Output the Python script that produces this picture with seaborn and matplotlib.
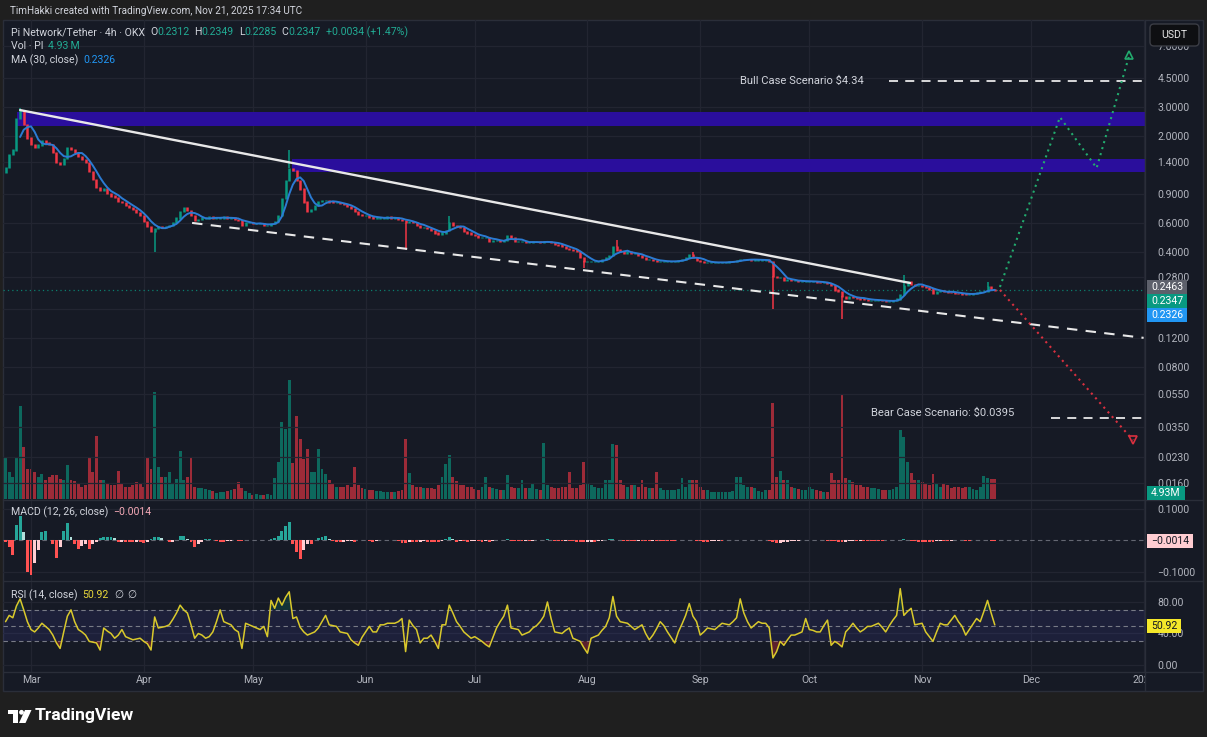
import numpy as np
import pandas as pd
import matplotlib
matplotlib.use("Agg")
import matplotlib.pyplot as plt
import matplotlib.transforms as mtransforms
from matplotlib.patches import Rectangle, FancyBboxPatch, Polygon, Circle
from matplotlib.lines import Line2D
import seaborn as sns

sns.set_theme(style="dark")
plt.rcParams["font.family"] = ["Roboto", "DejaVu Sans"]
plt.rcParams["axes.unicode_minus"] = True

W, H = 1207, 737
BG = "#161a25"
OUTER = "#1f1f1f"
GRID = "#222531"
TXT = "#b2b5be"
UP = "#089981"
DOWN = "#f23645"

# one value per day, starting 2025-02-22 (rows = weeks)
start_day = "2025-02-22"
first_open = 1.20
close = [
    1.30, 1.55, 1.65, 2.55, 2.85, 2.35, 1.95,
    1.78, 1.70, 1.77, 1.88, 1.82, 1.78, 1.60,
    1.38, 1.36, 1.46, 1.70, 1.66, 1.60, 1.50,
    1.45, 1.38, 1.22, 1.10, 0.98, 0.94, 0.97,
    0.90, 0.87, 0.85, 0.81, 0.79, 0.76, 0.74,
    0.72, 0.69, 0.66, 0.61, 0.57, 0.53, 0.55,
    0.57, 0.56, 0.57, 0.58, 0.60, 0.64, 0.70,
    0.74, 0.71, 0.66, 0.62, 0.63, 0.64, 0.64,
    0.65, 0.64, 0.64, 0.64, 0.65, 0.64, 0.64,
    0.63, 0.62, 0.58, 0.60, 0.60, 0.59, 0.59,
    0.59, 0.58, 0.58, 0.59, 0.61, 0.66, 0.84,
    1.08, 1.28, 1.24, 1.08, 0.96, 0.80, 0.70,
    0.72, 0.76, 0.81, 0.82, 0.82, 0.80, 0.79,
    0.79, 0.78, 0.77, 0.75, 0.73, 0.70, 0.67,
    0.66, 0.66, 0.65, 0.64, 0.64, 0.64, 0.64,
    0.65, 0.64, 0.64, 0.63, 0.62, 0.60, 0.61,
    0.60, 0.58, 0.56, 0.56, 0.55, 0.54, 0.52,
    0.51, 0.52, 0.54, 0.60, 0.58, 0.57, 0.56,
    0.53, 0.52, 0.51, 0.50, 0.49, 0.49, 0.49,
    0.46, 0.47, 0.47, 0.46, 0.47, 0.50, 0.49,
    0.46, 0.46, 0.46, 0.455, 0.455, 0.46, 0.46,
    0.455, 0.46, 0.46, 0.455, 0.445, 0.44, 0.43,
    0.42, 0.415, 0.41, 0.40, 0.37, 0.35, 0.35,
    0.35, 0.35, 0.35, 0.36, 0.37, 0.38, 0.43,
    0.41, 0.40, 0.39, 0.40, 0.39, 0.39, 0.38,
    0.37, 0.36, 0.36, 0.355, 0.35, 0.35, 0.35,
    0.35, 0.35, 0.35, 0.355, 0.36, 0.37, 0.385,
    0.37, 0.355, 0.35, 0.345, 0.345, 0.345, 0.345,
    0.345, 0.345, 0.345, 0.35, 0.35, 0.355, 0.36,
    0.36, 0.36, 0.357, 0.357, 0.357, 0.357, 0.357,
    0.35, 0.285, 0.28, 0.28, 0.27, 0.27, 0.267,
    0.267, 0.265, 0.265, 0.265, 0.265, 0.265, 0.262,
    0.26, 0.26, 0.256, 0.25, 0.235, 0.23, 0.215,
    0.21, 0.215, 0.212, 0.21, 0.207, 0.206, 0.204,
    0.204, 0.204, 0.204, 0.202, 0.20, 0.20, 0.203,
    0.207, 0.22, 0.25, 0.265, 0.255, 0.25, 0.25,
    0.248, 0.242, 0.238, 0.225, 0.23, 0.232, 0.23,
    0.228, 0.226, 0.225, 0.224, 0.222, 0.22, 0.221,
    0.224, 0.228, 0.23, 0.231, 0.245, 0.236, 0.2347,
]
wick_high_days = ["2025-02-26", "2025-05-11", "2025-06-24", "2025-08-09", "2025-08-30", "2025-10-27", "2025-11-19"]
wick_high_price = [2.98, 1.65, 0.66, 0.47, 0.40, 0.29, 0.262]
wick_low_days = ["2025-04-04", "2025-06-12", "2025-07-31", "2025-09-21", "2025-10-10"]
wick_low_price = [0.40, 0.41, 0.32, 0.18, 0.157]

volume_m = [
    10.2, 6.8, 5.5, 10.5, 23.2, 13.0, 7.5,
    7.5, 6.8, 5.5, 6.2, 4.8, 5.5, 6.0,
    6.0, 5.0, 4.8, 8.5, 4.8, 4.5, 4.0,
    3.0, 3.5, 10.5, 6.8, 15.8, 4.8, 4.8,
    4.0, 3.5, 3.5, 7.0, 3.8, 3.0, 3.0,
    3.5, 4.2, 3.8, 3.0, 10.5, 7.5, 26.8,
    8.0, 5.5, 5.5, 6.8, 4.0, 5.0, 12.0,
    4.8, 5.5, 10.2, 3.0, 2.8, 2.8, 2.5,
    2.2, 2.0, 1.5, 1.8, 1.8, 2.0, 2.2,
    2.5, 4.2, 2.8, 2.0, 1.5, 1.0, 1.2,
    1.0, 1.0, 1.2, 1.0, 5.2, 9.2, 19.2,
    17.5, 29.8, 9.0, 20.8, 15.0, 10.0, 12.5,
    6.8, 6.8, 12.5, 7.5, 6.2, 4.8, 4.0,
    3.0, 3.0, 3.0, 3.5, 3.0, 8.0, 3.5,
    2.8, 2.5, 2.2, 2.2, 2.0, 2.0, 1.8,
    1.8, 1.8, 1.8, 2.0, 2.2, 15.0, 6.5,
    3.5, 3.0, 3.0, 2.8, 2.8, 2.8, 2.5,
    3.5, 5.5, 8.8, 11.0, 5.5, 4.5, 3.5,
    3.5, 3.0, 3.0, 2.5, 2.2, 3.0, 5.5,
    3.0, 2.8, 2.5, 2.2, 2.2, 6.0, 3.0,
    2.8, 2.8, 4.8, 2.8, 2.8, 4.0, 2.5,
    2.2, 14.0, 3.5, 3.0, 2.8, 2.8, 3.0,
    3.0, 6.8, 2.8, 2.8, 3.5, 9.2, 4.0,
    3.5, 3.0, 2.8, 2.8, 4.8, 4.8, 13.8,
    13.5, 4.8, 3.5, 3.0, 3.5, 3.5, 3.0,
    4.8, 3.0, 2.8, 2.8, 6.8, 2.8, 2.2,
    2.2, 2.2, 2.2, 2.5, 5.2, 3.0, 4.8,
    4.8, 4.8, 3.0, 2.2, 2.2, 1.8, 1.8,
    1.8, 1.8, 1.8, 1.8, 2.0, 5.5, 5.5,
    3.5, 3.0, 3.0, 2.8, 2.0, 1.8, 2.2,
    2.2, 24.0, 5.5, 7.0, 4.8, 4.8, 3.0,
    2.8, 2.5, 2.2, 2.2, 3.0, 2.5, 2.2,
    2.0, 1.8, 1.8, 6.5, 4.8, 4.8, 26.0,
    5.2, 4.8, 4.2, 3.5, 3.5, 3.0, 3.0,
    2.8, 2.8, 2.5, 2.2, 2.2, 2.2, 2.5,
    3.0, 17.2, 15.5, 9.2, 6.5, 4.8, 4.8,
    4.2, 4.0, 3.5, 6.2, 4.0, 3.0, 4.0,
    3.5, 2.8, 3.0, 3.0, 2.8, 3.0, 3.0,
    2.5, 2.2, 3.0, 5.8, 5.2, 5.0, 4.93,
]

macd_hist = [
    -0.005, -0.02, -0.047, 0.05, 0.078, 0.026, -0.099,
    -0.109, -0.073, -0.031, 0.026, 0.031, 0.002, -0.01,
    -0.057, -0.02, 0.031, 0.054, 0.01, -0.01, -0.026,
    -0.018, -0.01, -0.026, -0.012, -0.005, 0.008, 0.01,
    0.012, 0.012, 0.008, -0.005, -0.004, -0.005, -0.005,
    -0.005, -0.004, -0.006, -0.008, -0.006, 0.004, 0.012,
    0.012, 0.008, 0.003, -0.005, -0.004, 0.002, 0.015,
    0.015, 0.006, -0.005, -0.02, -0.01, -0.005, 0.004,
    0.005, 0.002, -0.002, -0.004, -0.004, -0.003, -0.002,
    0.002, -0.003, -0.003, 0.002, 0.003, 0.002, 0.001,
    0.001, 0.002, 0.002, 0.005, 0.008, 0.015, 0.03,
    0.045, 0.058, -0.01, -0.035, -0.058, -0.03, -0.01,
    -0.01, 0.002, 0.008, 0.012, 0.015, 0.005, -0.003,
    -0.005, -0.005, -0.004, -0.003, -0.002, -0.004, 0.003,
    0.003, 0.002, -0.002, -0.004, -0.003, 0.002, 0.002,
    0.001, 0.002, 0.002, -0.002, -0.007, -0.007, -0.004,
    -0.004, -0.005, -0.004, -0.003, -0.004, -0.004, -0.004,
    -0.004, -0.002, 0.004, 0.01, 0.006, -0.004, -0.003,
    -0.003, -0.004, -0.003, -0.002, -0.003, -0.004, -0.003,
    -0.004, -0.002, 0.002, 0.002, 0.003, 0.004, -0.002,
    -0.002, -0.002, -0.003, -0.002, -0.002, -0.001, 0.001,
    0.002, 0.003, 0.004, 0.003, -0.002, -0.003, -0.003,
    -0.002, -0.002, -0.003, -0.004, -0.005, -0.006, -0.005,
    -0.004, -0.004, -0.003, -0.002, 0.002, 0.004, 0.004,
    0.003, 0.002, -0.002, -0.002, -0.003, -0.003, -0.002,
    -0.002, -0.003, -0.003, -0.002, -0.002, -0.002, -0.002,
    -0.002, -0.002, -0.002, 0.001, 0.002, 0.003, 0.003,
    0.002, -0.002, -0.003, -0.004, -0.004, -0.003, -0.002,
    -0.001, -0.001, 0.001, 0.002, 0.002, 0.003, 0.003,
    0.002, 0.001, 0.001, 0.001, 0.001, 0.001, 0.001,
    -0.001, -0.006, -0.008, -0.007, -0.005, -0.004, -0.003,
    -0.002, -0.001, 0.001, 0.002, 0.001, 0.001, 0.001,
    0.001, 0.001, -0.001, -0.002, -0.003, -0.004, -0.005,
    -0.004, -0.003, -0.002, -0.002, -0.001, -0.001, -0.001,
    -0.001, -0.001, -0.001, -0.001, 0.001, 0.001, 0.002,
    0.002, 0.003, 0.004, 0.002, -0.002, -0.003, -0.004,
    -0.004, -0.004, -0.004, -0.004, -0.003, -0.002, -0.002,
    -0.002, -0.001, 0.001, 0.001, 0.001, -0.001, -0.001,
    0.001, 0.001, 0.001, 0.002, 0.002, -0.001, -0.0014,
]

rsi = [
    55, 63, 60, 75, 84, 70, 55,
    45, 42, 47, 53, 49, 45, 38,
    28, 21, 42, 62, 70, 55, 45,
    42, 38, 30, 29, 28, 19, 47,
    43, 40, 34, 38, 45, 36, 34,
    32, 33, 34, 30, 27, 19, 61,
    47, 48, 49, 51, 58, 66, 76,
    70, 66, 51, 34, 40, 38, 34,
    36, 42, 55, 70, 55, 53, 51,
    45, 42, 21, 53, 51, 49, 47,
    45, 49, 36, 82, 72, 85, 76,
    86, 93, 59, 61, 48, 42, 38,
    40, 42, 47, 55, 63, 51, 50,
    49, 42, 41, 40, 32, 28, 25,
    35, 42, 49, 42, 42, 51, 51,
    53, 53, 53, 55, 59, 17, 57,
    50, 45, 28, 34, 34, 38, 30,
    21, 51, 51, 76, 66, 55, 49,
    42, 38, 34, 36, 33, 30, 26,
    23, 35, 47, 55, 62, 76, 47,
    46, 45, 38, 40, 42, 47, 50,
    55, 62, 80, 59, 42, 41, 40,
    44, 47, 34, 32, 30, 22, 15,
    34, 36, 38, 44, 49, 60, 87,
    62, 55, 54, 53, 49, 45, 48,
    51, 40, 32, 38, 46, 55, 50,
    42, 35, 28, 42, 52, 63, 78,
    62, 55, 38, 42, 47, 46, 45,
    49, 53, 52, 51, 55, 60, 84,
    66, 55, 47, 51, 55, 53, 53,
    47, 9, 17, 30, 25, 32, 38,
    38, 40, 42, 59, 45, 44, 42,
    42, 50, 57, 25, 30, 27, 23,
    42, 47, 53, 47, 42, 45, 49,
    49, 51, 53, 48, 42, 50, 57,
    63, 97, 63, 68, 72, 51, 52,
    53, 42, 36, 30, 42, 53, 51,
    51, 57, 63, 55, 49, 38, 45,
    52, 59, 55, 68, 82, 66, 50.92,
]

# drawings on the chart
trend_days = ["2025-02-26 00:00", "2025-10-28 17:00"]
trend_price = [2.88, 0.259]
support_days = ["2025-04-14 07:00", "2025-12-31 22:00"]
support_price = [0.598, 0.1206]
zone_start = ["2025-02-25 04:00", "2025-05-11 19:00"]
zone_low = [2.31, 1.22]
zone_high = [2.80, 1.46]
bull_days = ["2025-11-22 10:00", "2025-12-08 22:00", "2025-12-19 00:00", "2025-12-28 00:00"]
bull_price = [0.245, 2.61, 1.285, 6.2]
bear_days = ["2025-11-22 10:00", "2025-12-29 00:00"]
bear_price = [0.235, 0.029]
bull_target, bear_target = 4.34, 0.0395
bull_line_days = ["2025-10-22 19:00", "2025-12-31 22:00"]
bear_line_days = ["2025-12-06 14:00", "2025-12-31 22:00"]
bull_text_day, bear_text_day = "2025-09-12 00:00", "2025-10-18 00:00"

price_ticks = [7.0, 4.5, 3.0, 2.0, 1.4, 0.9, 0.6, 0.4, 0.28, 0.18, 0.12, 0.08, 0.055, 0.035, 0.023, 0.016]
month_labels = ["Mar", "Apr", "May", "Jun", "Jul", "Aug", "Sep", "Oct", "Nov", "Dec", "2026"]

for arr in (close, volume_m, macd_hist, rsi):
    assert len(arr) == 273, len(arr)

dates = pd.date_range(start_day, periods=len(close), freq="D")
close = np.array(close)
open_ = np.r_[first_open, close[:-1]]
up = close >= open_
ccol = np.where(up, UP, DOWN)
ma = pd.Series(close).rolling(5).mean()
rsi = np.array(rsi)
months = pd.date_range("2025-03-01", "2026-01-01", freq="MS")
mar1 = pd.Timestamp("2025-03-01")
xlim = (mar1 - pd.Timedelta(days=7.7), mar1 + pd.Timedelta(days=306.3))

fig = plt.figure(figsize=(W / 100, H / 100), dpi=100)
fig.patch.set_facecolor(OUTER)
pix = mtransforms.Affine2D().scale(1 / W, -1 / H).translate(0, 1) + fig.transFigure
renderer = fig.canvas.get_renderer()

fig.patches.append(Rectangle((3, 20), 1200, 671, transform=pix, fc=BG, ec="#2a2e39", lw=1, zorder=-10))


def add_ax(x0, y0, x1, y1):
    a = fig.add_axes([x0 / W, 1 - y1 / H, (x1 - x0) / W, (y1 - y0) / H])
    a.set_facecolor("none")
    for s in a.spines.values():
        s.set_visible(False)
    a.set_xlim(*xlim)
    a.set_xticks(months)
    a.tick_params(axis="x", length=0, labelbottom=False)
    a.xaxis.grid(True, color=GRID, lw=0.9)
    a.set_xlabel("")
    return a


def right_ticks(a, ticks, labels):
    a.yaxis.tick_right()
    a.set_yticks(ticks)
    a.set_yticklabels(labels)
    a.yaxis.set_minor_locator(matplotlib.ticker.NullLocator())
    a.tick_params(axis="y", length=0, pad=9, labelsize=7.6, labelcolor=TXT)
    a.yaxis.grid(True, color=GRID, lw=0.9)
    a.set_ylabel("")


def side_box(a, y, s, fc, tc, dy=0):
    # value tag on the price scale, shifted dy pixels when tags would collide
    ypx = H - a.transData.transform((a.get_xlim()[0], y))[1] + dy
    t = fig.text(1151, ypx, s, transform=pix, ha="left", va="center", fontsize=7.6, color=tc, zorder=12)
    w = t.get_window_extent(renderer=renderer).width
    fig.patches.append(Rectangle((1147, ypx - 7), w + 8, 14, transform=pix, fc=fc, ec="none", zorder=11))


# ---- volume (bottom of price pane) ----
axv = add_ax(3, 20, 1145, 500)
axv.set_ylim(-0.25, 119.75)
axv.set_yticks([])
axv.xaxis.grid(False)
axv.bar(dates, volume_m, width=0.8, color=ccol, alpha=0.62, lw=0)

# ---- price pane ----
ax = add_ax(3, 20, 1145, 500)
ax.set_yscale("log")
ax.set_ylim(0.0126, 10.1)
right_ticks(ax, price_ticks, ["" if t == 0.18 else f"{t:.4f}" for t in price_ticks])

for s, lo, hi in zip(zone_start, zone_low, zone_high):
    ax.fill_between([pd.Timestamp(s), xlim[1]], lo, hi, color="#2a0e9c", lw=0, zorder=2)

ax.axhline(close[-1], color=UP, lw=0.9, ls=(0, (1, 2.5)), alpha=0.8, zorder=2)

lo = np.minimum(open_, close) / 1.008
hi = np.maximum(open_, close) * 1.008
ax.vlines(dates, lo, hi, colors=ccol, lw=1.8, zorder=4)
for days, prices, pick in ((wick_high_days, wick_high_price, np.maximum),
                           (wick_low_days, wick_low_price, np.minimum)):
    idx = [dates.get_loc(pd.Timestamp(d)) for d in days]
    ax.vlines(dates[idx], pick(open_[idx], close[idx]), prices, colors=ccol[idx], lw=1.1, zorder=4)

sns.lineplot(x=dates[4:], y=ma.values[4:], ax=ax, color="#2b7bd3", lw=1.4, zorder=5)

ax.plot(pd.to_datetime(trend_days), trend_price, color="#e8e8e8", lw=1.7, zorder=6, solid_capstyle="round")
ax.plot(pd.to_datetime(support_days), support_price, color="#e8e8e8", lw=1.5, dashes=(5, 4), zorder=6)
ax.plot(pd.to_datetime(bull_line_days), [bull_target] * 2, color="#e8e8e8", lw=1.3, dashes=(5, 4), zorder=6)
ax.plot(pd.to_datetime(bear_line_days), [bear_target] * 2, color="#e8e8e8", lw=1.3, dashes=(5, 4), zorder=6)
ax.plot(pd.to_datetime(bull_days), bull_price, color="#22ab6e", lw=1.5, ls=(0, (1, 2)), zorder=6)
ax.plot(pd.to_datetime(bear_days), bear_price, color="#d9303f", lw=1.5, ls=(0, (1, 2)), zorder=6)
ax.plot(pd.to_datetime(bull_days[-1:]), bull_price[-1:], marker="^", ms=6, mfc="none", mec="#22ab6e", mew=1.2, zorder=6)
ax.plot(pd.to_datetime(bear_days[-1:]), bear_price[-1:], marker="v", ms=6, mfc="none", mec="#d9303f", mew=1.2, zorder=6)
ax.text(pd.Timestamp(bull_text_day), bull_target, "Bull Case Scenario $4.34", color="#d1d4dc",
        fontsize=8.1, va="center", ha="left", zorder=7)
ax.annotate("Bear Case Scenario: $0.0395", (pd.Timestamp(bear_text_day), bear_target), xytext=(0, 5),
            textcoords="offset pixels", color="#d1d4dc", fontsize=8.1, va="center", ha="left", zorder=7)

side_box(ax, 0.2463, "0.2463", "#5d606b", "#ffffff")
side_box(ax, 0.2347, "0.2347", UP, "#ffffff", dy=11)
side_box(ax, 0.2326, "0.2326", "#2196f3", "#ffffff", dy=24)
side_box(axv, 4.93, "4.93M", UP, "#ffffff", dy=14)

# ---- MACD pane ----
axm = add_ax(3, 501, 1145, 581)
axm.set_ylim(-0.1286, 0.1254)
right_ticks(axm, [0.1, -0.1], ["0.1000", "\u22120.1000"])
h = np.array(macd_hist)
prev = np.r_[0.0, h[:-1]]
mcol = np.where(h >= 0, np.where(h >= prev, "#26a69a", "#b2dfdb"), np.where(h <= prev, "#ff5252", "#ffcdd2"))
axm.bar(dates, h, width=0.8, color=mcol, lw=0, zorder=3)
axm.axhline(0, color="#787b86", lw=0.8, ls=(0, (4, 3)), alpha=0.8, zorder=2)
side_box(axm, -0.0014, "\u22120.0014", "#ffcdd2", "#131722")

# ---- RSI pane ----
axr = add_ax(3, 582, 1145, 672)
axr.set_ylim(-8.9, 105.4)
right_ticks(axr, [80, 40, 0], ["80.00", "40.00", "0.00"])
axr.axhspan(30, 70, color="#4a4ac0", alpha=0.14, lw=0, zorder=1)
for lvl in (70, 50, 30):
    axr.axhline(lvl, color="#787b86", lw=0.8, ls=(0, (4, 3)), zorder=2)
axr.fill_between(dates, rsi, 30, where=rsi < 30, interpolate=True, color="#b22833", alpha=0.45, lw=0, zorder=2)
axr.fill_between(dates, rsi, 70, where=rsi > 70, interpolate=True, color="#089981", alpha=0.2, lw=0, zorder=2)
sns.lineplot(x=dates, y=rsi, ax=axr, color="#d9c92c", lw=1.1, zorder=4)
axr.set_ylabel("")
side_box(axr, 50.92, "50.92", "#f5e82a", "#131722", dy=1)

# ---- time axis ----
axt = add_ax(3, 672, 1145, 691)
axt.xaxis.grid(False)
axt.set_ylim(0, 1)
axt.set_yticks([])
for d, lab in zip(months, month_labels):
    axt.text(d, 0.6, lab, color=TXT, fontsize=7.6, ha="center", va="center", clip_on=True)

# separators
for y in (500.5, 581.5, 672):
    fig.add_artist(Line2D([3, 1203], [y, y], transform=pix, color="#2a2e39", lw=1))
fig.add_artist(Line2D([1145, 1145], [20, 691], transform=pix, color="#2a2e39", lw=1))

# USDT box
fig.patches.append(FancyBboxPatch((1150, 24), 49, 22, boxstyle="round,pad=0,rounding_size=4",
                                  transform=pix, fc="#0e0f12", ec="#3b3d45", lw=1, zorder=5))
fig.text(1174.5, 35, "USDT", transform=pix, color="#e6e6e6", fontsize=7.6, ha="center", va="center", zorder=6)


# header / legends
def rich(x, y, parts, size=7.6):
    for s, c in parts:
        if s is None:
            x += c
            continue
        t = fig.text(x, y, s, transform=pix, color=c, fontsize=size, ha="left", va="center")
        x += t.get_window_extent(renderer=renderer).width


LBL = "#d1d4dc"
VAL = "#22ab94"
rich(10, 11, [("TimHakki created with TradingView.com, Nov 21, 2025 17:34 UTC", LBL)], size=7.2)
rich(11, 32, [("Pi Network/Tether \u00b7 4h \u00b7 OKX", LBL), (None, 5),
              ("O", LBL), ("0.2312", VAL), (None, 5), ("H", LBL), ("0.2349", VAL), (None, 5),
              ("L", LBL), ("0.2285", VAL), (None, 5), ("C", LBL), ("0.2347", VAL), (None, 5),
              ("+0.0034 (+1.47%)", VAL)])
rich(11, 46, [("Vol \u00b7 PI", LBL), (None, 5), ("4.93\u2009M", VAL)])
rich(11, 60, [("MA (30, close)", LBL), (None, 5), ("0.2326", "#2196f3")])
rich(11, 512, [("MACD (12, 26, close)", LBL), (None, 5), ("\u22120.0014", "#f5aab8")])
rich(11, 595, [("RSI (14, close)", LBL), (None, 5), ("50.92", "#e8d83a"), (None, 5),
               ("\u2205", LBL), (None, 4), ("\u2205", LBL)])

# logo
fig.patches.append(Rectangle((8, 710), 10, 4.5, transform=pix, fc="white", ec="none"))
fig.patches.append(Rectangle((13, 710), 5, 13, transform=pix, fc="white", ec="none"))
fig.patches.append(Circle((21.5, 712.3), 2.4, transform=pix, fc="white", ec="none"))
fig.patches.append(Polygon([(25, 710), (31.5, 710), (25.5, 723), (19, 723)], transform=pix, fc="white", ec="none"))
fig.text(35, 716, "TradingView", transform=pix, color="#ffffff", fontsize=12.6, fontweight="bold",
         ha="left", va="center")

fig.savefig("out.png", dpi=100, facecolor=OUTER)
